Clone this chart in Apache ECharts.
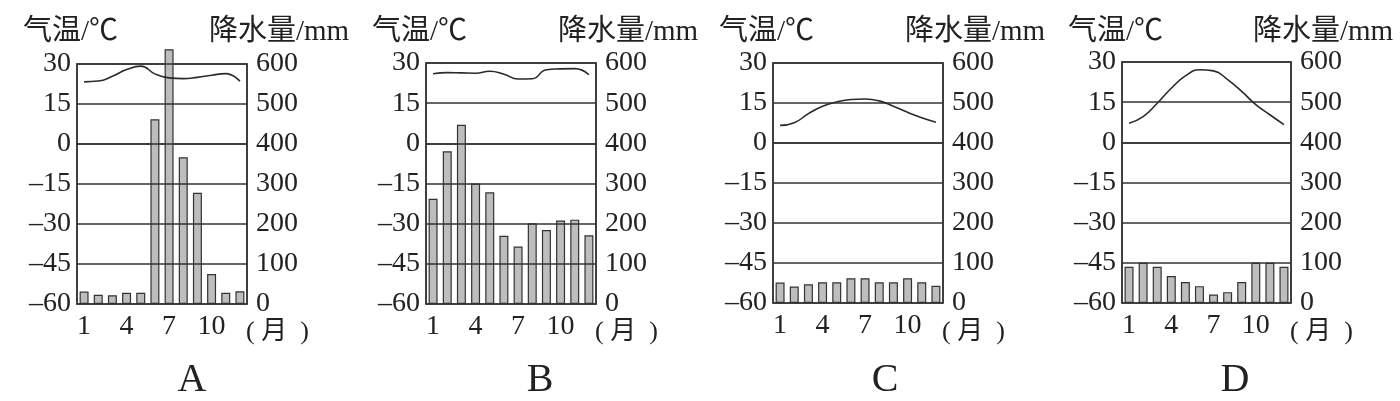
<!DOCTYPE html>
<html>
<head>
<meta charset="utf-8">
<script src="https://cdn.jsdelivr.net/npm/echarts@6/dist/echarts.min.js"></script>
<style>html,body{margin:0;padding:0;background:#fff;}#c{width:1400px;height:401px;}</style>
</head>
<body>
<div id="c"></div>
<script>
// ---- data ----
const months = ['1','2','3','4','5','6','7','8','9','10','11','12'];
const panelNames = ['A','B','C','D'];
const tempA = [23.3, 23.6, 25.4, 27.9, 29.2, 26.3, 24.8, 24.5, 25.0, 25.8, 26.4, 23.5];
const precA = [31, 23, 22, 28, 28, 462, 637, 367, 278, 75, 28, 32];
const tempB = [26.0, 26.4, 26.3, 26.2, 26.9, 25.8, 24.0, 24.1, 27.5, 27.8, 27.9, 25.6];
const precB = [262, 380, 446, 300, 278, 170, 143, 201, 184, 208, 210, 171];
const tempC = [6.6, 7.6, 11.0, 13.8, 15.4, 16.3, 16.5, 15.8, 13.8, 11.5, 9.5, 7.8];
const precC = [51, 41, 47, 52, 52, 62, 62, 52, 52, 62, 52, 43];
const tempD = [7.1, 9.6, 14.6, 20.2, 24.8, 27.1, 26.7, 23.4, 19.0, 14.1, 10.3, 6.6];
const precD = [90, 100, 90, 67, 52, 42, 21, 27, 52, 100, 100, 90];
const tempTicks = {min: -60, max: 30, interval: 15};
const precTicks = {min: 0, max: 600, interval: 100};
const leftTitle = '气温/℃';
const rightTitle = '降水量/mm';
const monthUnit = '( 月  )';

const temps = [tempA, tempB, tempC, tempD];
const precs = [precA, precB, precC, precD];

// ---- layout ----
const grids = [
  {left: 77, top: 64, width: 170, height: 240},
  {left: 426, top: 63, width: 170, height: 241},
  {left: 773, top: 63, width: 170, height: 240},
  {left: 1122, top: 62, width: 169, height: 241}
];
const letterX = [192, 540, 885, 1235];

const ink = '#222';
const numFont = 'Liberation Serif';
const mixFont = "'Liberation Serif', 'Noto Sans CJK SC'";

const option = {
  backgroundColor: '#fff',
  animation: false,
  grid: [], xAxis: [], yAxis: [], series: [], title: []
};

grids.forEach((g, i) => {
  option.grid.push({left: g.left, top: g.top, width: g.width, height: g.height,
    show: true, borderColor: '#333', borderWidth: 1.5, backgroundColor: 'transparent'});
  option.xAxis.push({
    type: 'category', gridIndex: i, data: months, boundaryGap: true,
    axisLine: {show: true, lineStyle: {color: '#333', width: 1.5}},
    axisTick: {show: false},
    axisLabel: {interval: 2, margin: 9, color: ink, fontFamily: numFont, fontSize: 28}
  });
  option.yAxis.push({
    type: 'value', gridIndex: i, position: 'left',
    min: tempTicks.min, max: tempTicks.max, interval: tempTicks.interval, z: 3,
    axisLine: {show: true, lineStyle: {color: '#333', width: 1.5}},
    axisTick: {show: false},
    axisLabel: {margin: 6, color: ink, fontFamily: numFont, fontSize: 28, padding: [4, 0, 0, 0],
      formatter: v => (v < 0 ? '\u2013' + Math.abs(v) : String(v))},
    splitLine: {show: true, lineStyle: {color: '#333', width: 1.5}}
  });
  option.yAxis.push({
    type: 'value', gridIndex: i, position: 'right',
    min: precTicks.min, max: precTicks.max, interval: precTicks.interval,
    axisLine: {show: true, lineStyle: {color: '#333', width: 1.5}},
    axisTick: {show: false},
    axisLabel: {margin: 9, color: ink, fontFamily: numFont, fontSize: 28, padding: [4, 0, 0, 0]},
    splitLine: {show: false}
  });
  option.series.push({
    type: 'bar', xAxisIndex: i, yAxisIndex: 2 * i + 1, data: precs[i],
    barWidth: 9, clip: false, z: 2,
    itemStyle: {color: '#bdbdbd', borderColor: '#333', borderWidth: 1.2}
  });
  option.series.push({
    type: 'line', xAxisIndex: i, yAxisIndex: 2 * i, data: temps[i],
    smooth: true, showSymbol: false, symbol: 'none', z: 4,
    lineStyle: {color: '#2a2a2a', width: 1.6}
  });
  option.title.push({text: leftTitle, left: g.left - 54, top: 18, padding: 0,
    textStyle: {color: ink, fontFamily: mixFont, fontSize: 29, fontWeight: 'normal'}});
  option.title.push({text: rightTitle, left: g.left + g.width - 38, top: 18, padding: 0,
    textStyle: {color: ink, fontFamily: mixFont, fontSize: 29, fontWeight: 'normal'}});
  option.title.push({text: monthUnit, left: g.left + g.width - 1, top: 319, padding: 0,
    textStyle: {color: ink, fontFamily: mixFont, fontSize: 26, lineHeight: 26, fontWeight: 'normal'}});
  option.title.push({text: panelNames[i], left: letterX[i], top: 360, padding: 0, textAlign: 'center',
    textStyle: {color: ink, fontFamily: numFont, fontSize: 40, fontWeight: 'normal'}});
});

const chart = echarts.init(document.getElementById('c'), null, {renderer: 'canvas'});
chart.setOption(option);
</script>
</body>
</html>
